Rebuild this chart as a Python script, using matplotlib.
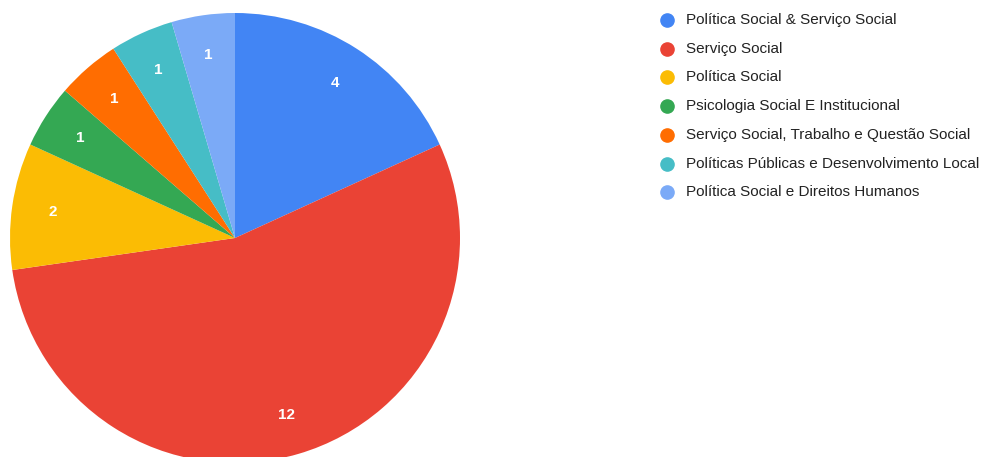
import matplotlib.pyplot as plt

categorias = [
    "Política Social & Serviço Social",
    "Serviço Social",
    "Política Social",
    "Psicologia Social E Institucional",
    "Serviço Social, Trabalho e Questão Social",
    "Políticas Públicas e Desenvolvimento Local",
    "Política Social e Direitos Humanos",
]
valores = [4, 12, 2, 1, 1, 1, 1]
cores = ["#4285f4", "#ea4335", "#fbbc04", "#34a853", "#ff6d01", "#46bdc6", "#7baaf7"]

plt.rcParams['font.family'] = ['Liberation Sans', 'DejaVu Sans']

fig = plt.figure(figsize=(9.89, 4.57), dpi=100)
ax = fig.add_axes([0, 0, 1, 1])

# pizza em coordenadas de pixel (centro ~ (235, 238) a partir do topo)
wedges, textos = ax.pie(valores, colors=cores, startangle=90, counterclock=False,
                        center=(235, 457 - 238), radius=225, labels=[str(v) for v in valores],
                        labeldistance=0.82, frame=True,
                        textprops=dict(color='white', fontsize=11, fontweight='bold'))
for t in textos:
    t.set_ha('center')
    t.set_va('center')
ax.set_xlim(0, 989)
ax.set_ylim(0, 457)
ax.set_aspect('equal')
ax.axis('off')

# legenda
for i, (cat, cor) in enumerate(zip(categorias, cores)):
    y = 457 - (20 + i * 28.7)
    ax.plot(667, y, 'o', color=cor, markersize=9.5, clip_on=False)
    ax.text(686, y, cat, fontsize=11, color='#222222', va='center', ha='left')

fig.savefig("out.png", dpi=100)
